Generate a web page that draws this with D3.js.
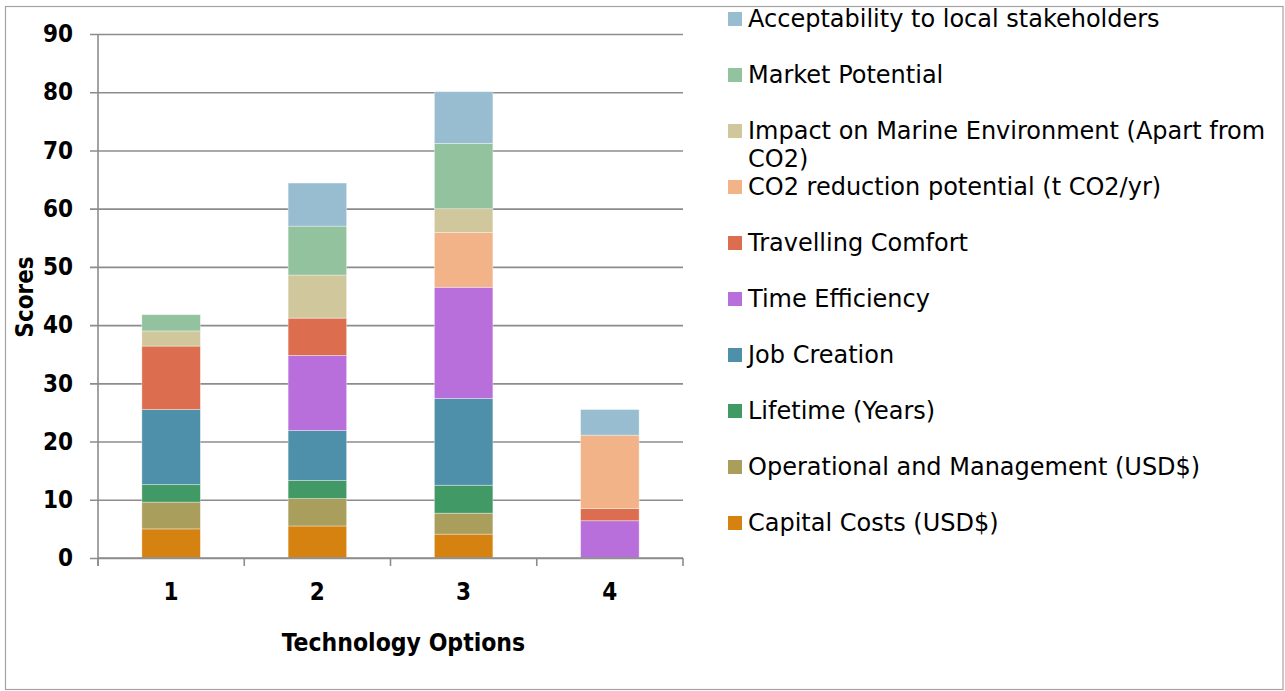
<!DOCTYPE html>
<html>
<head>
<meta charset="utf-8">
<script src="https://cdn.jsdelivr.net/npm/d3@7"></script>
<style>
  html, body { margin: 0; padding: 0; background: #fff; }
  svg { display: block; }
  text { font-family: "DejaVu Sans Condensed", "DejaVu Sans", sans-serif; font-stretch: condensed; fill: #000; }
  text.legend-label { font-family: "DejaVu Sans", sans-serif; font-stretch: normal; }
</style>
</head>
<body>
<svg id="chart" width="1285" height="691"></svg>
<script>
// Technology options on the x axis
const categories = ["1", "2", "3", "4"];

// Criterion scores per technology option (stacked bottom to top)
const capitalCosts   = [5.0, 5.5, 4.1, 0];
const operational    = [4.6, 4.7, 3.6, 0];
const lifetime       = [3.0, 3.1, 4.8, 0];
const jobCreation    = [12.9, 8.6, 14.9, 0];
const timeEfficiency = [0, 12.9, 19.1, 6.4];
const travelComfort  = [10.9, 6.4, 0, 2.1];
const co2Reduction   = [0, 0, 9.4, 12.6];
const marineImpact   = [2.6, 7.4, 4.1, 0];
const marketPotential= [2.8, 8.4, 11.2, 0];
const acceptability  = [0, 7.4, 8.9, 4.4];

const seriesNames = [
  "Capital Costs (USD$)",
  "Operational and Management (USD$)",
  "Lifetime (Years)",
  "Job Creation",
  "Time Efficiency",
  "Travelling Comfort",
  "CO2 reduction potential (t CO2/yr)",
  "Impact on Marine Environment (Apart from CO2)",
  "Market Potential",
  "Acceptability to local stakeholders"
];
const seriesValues = [capitalCosts, operational, lifetime, jobCreation, timeEfficiency,
  travelComfort, co2Reduction, marineImpact, marketPotential, acceptability];
const seriesColors = ["#d58210", "#a99e5c", "#419965", "#4e90a9", "#b86fdc",
  "#dc6e4f", "#f3b388", "#d0c89c", "#92c39e", "#98bdd0"];

const yTicks = [0, 10, 20, 30, 40, 50, 60, 70, 80, 90];
const xTitle = "Technology Options";
const yTitle = "Scores";

// Build rows for d3.stack
const rows = categories.map((c, i) => {
  const r = { category: c };
  seriesNames.forEach((n, k) => { r[n] = seriesValues[k][i]; });
  return r;
});

const svg = d3.select("#chart");

// outer frame
svg.append("rect")
  .attr("x", 5.5).attr("y", 6.5).attr("width", 1277.5).attr("height", 683)
  .attr("fill", "#fff").attr("stroke", "#a3a3a3").attr("stroke-width", 1.2);

const plot = { left: 98, right: 683, top: 34, bottom: 558 };

const x = d3.scaleBand().domain(categories)
  .range([plot.left, plot.right]).paddingInner(0.6).paddingOuter(0.3);
const y = d3.scaleLinear().domain([0, 90]).range([plot.bottom, plot.top]);

const gridColor = "#8c8c8c";

// y axis with gridlines
const yAxis = svg.append("g")
  .attr("transform", `translate(${plot.left},0)`)
  .call(d3.axisLeft(y).tickValues(yTicks).tickSizeOuter(0).tickPadding(19));
yAxis.select(".domain").remove();
yAxis.attr("font-family", null);
yAxis.selectAll(".tick line")
  .attr("x1", -8).attr("x2", plot.right - plot.left)
  .attr("stroke", gridColor).attr("stroke-width", 1.6);
yAxis.selectAll(".tick text")
  .attr("font-size", 24).attr("font-weight", "bold");

// y axis line
svg.append("line")
  .attr("x1", plot.left).attr("x2", plot.left)
  .attr("y1", plot.top).attr("y2", plot.bottom + 8)
  .attr("stroke", gridColor).attr("stroke-width", 1.6);

// stacked bars
const stack = d3.stack().keys(seriesNames);
const layers = stack(rows);
svg.append("g").selectAll("g")
  .data(layers)
  .join("g")
  .attr("fill", (d, i) => seriesColors[i])
  .selectAll("rect")
  .data(d => d.filter(s => s[1] - s[0] > 0))
  .join("rect")
  .attr("x", d => x(d.data.category))
  .attr("width", x.bandwidth())
  .attr("y", d => y(d[1]))
  .attr("height", d => y(d[0]) - y(d[1]))
  .attr("stroke", "rgba(255,255,255,0.45)")
  .attr("stroke-width", 0.8);

// x axis line and category boundary ticks
svg.append("line")
  .attr("x1", plot.left).attr("x2", plot.right)
  .attr("y1", plot.bottom).attr("y2", plot.bottom)
  .attr("stroke", gridColor).attr("stroke-width", 1.6);
const bounds = categories.map(c => x(c) + x.bandwidth() / 2 - x.step() / 2).concat([plot.right]);
svg.append("g").selectAll("line")
  .data(bounds)
  .join("line")
  .attr("x1", d => d).attr("x2", d => d)
  .attr("y1", plot.bottom).attr("y2", plot.bottom + 8)
  .attr("stroke", gridColor).attr("stroke-width", 1.6);

// category labels
const xAxis = svg.append("g")
  .attr("transform", `translate(0,${plot.bottom})`)
  .call(d3.axisBottom(x).tickSize(0).tickPadding(25));
xAxis.select(".domain").remove();
xAxis.attr("font-family", null);
xAxis.selectAll(".tick text")
  .attr("font-size", 24).attr("font-weight", "bold");

// axis titles
svg.append("text")
  .attr("x", (plot.left + plot.right) / 2 + 13).attr("y", 651)
  .attr("text-anchor", "middle")
  .attr("font-size", 24.5).attr("font-weight", "bold")
  .text(xTitle);

svg.append("text")
  .attr("transform", "translate(33,297) rotate(-90)")
  .attr("text-anchor", "middle")
  .attr("font-size", 24).attr("font-weight", "bold")
  .text(yTitle);

// legend, listed top to bottom in reverse stack order
const legendItems = seriesNames.map((n, i) => ({ name: n, color: seriesColors[i] })).reverse();
const legend = svg.append("g").attr("transform", "translate(728,12)");
const rowGap = 56, maxTextWidth = 528, wrapGap = 28;
legendItems.forEach((item, i) => {
  const g = legend.append("g").attr("transform", `translate(0,${i * rowGap})`);
  g.append("rect").attr("width", 14).attr("height", 14).attr("fill", item.color);
  const t = g.append("text").attr("class", "legend-label")
    .attr("x", 20).attr("y", 15).attr("font-size", 24);
  // wrap words onto extra lines when too long
  const words = item.name.split(" ");
  let line = [];
  let tspan = t.append("tspan").attr("x", 20).attr("y", 15);
  let lineNo = 0;
  words.forEach(w => {
    line.push(w);
    tspan.text(line.join(" "));
    if (tspan.node().getComputedTextLength() > maxTextWidth && line.length > 1) {
      line.pop();
      tspan.text(line.join(" "));
      line = [w];
      lineNo++;
      tspan = t.append("tspan").attr("x", 20).attr("y", 15 + lineNo * wrapGap).text(w);
    }
  });
});
</script>
</body>
</html>
